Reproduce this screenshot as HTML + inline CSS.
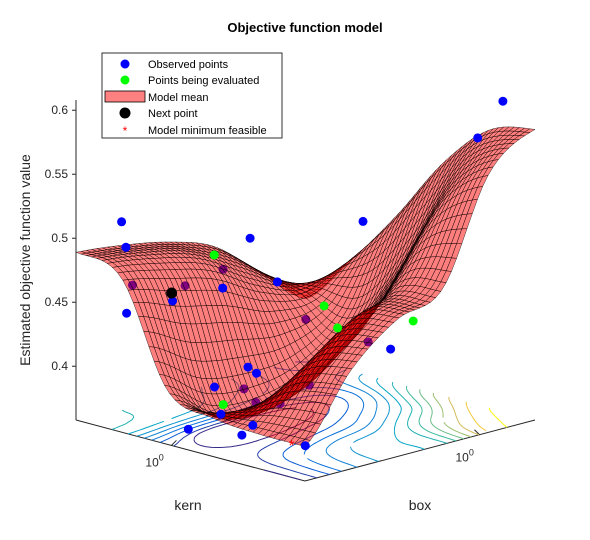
<!DOCTYPE html>
<html><head><meta charset="utf-8"><style>
html,body{margin:0;padding:0;background:#fff;}
svg{display:block;font-family:"Liberation Sans",Arial,sans-serif;}
</style></head><body>
<svg id="chart" width="590" height="540" viewBox="0 0 590 540" xmlns="http://www.w3.org/2000/svg">
<rect x="0" y="0" width="590" height="540" fill="#fff"/>
<text x="305" y="32" text-anchor="middle" font-size="13" font-weight="bold" fill="#000">Objective function model</text>
<text transform="translate(30,260) rotate(-90)" text-anchor="middle" font-size="14" fill="#262626">Estimated objective function value</text>
<text x="188" y="510" text-anchor="middle" font-size="14" fill="#262626">kern</text>
<text x="420" y="510" text-anchor="middle" font-size="14" fill="#262626">box</text>
<g id="floor"></g>
<g id="contours"></g>
<g id="behind"></g>
<g id="surface"></g>
<g id="front"></g>
<g id="zaxis"></g>
<g>
  <rect x="102" y="53" width="180" height="85" fill="#fff" stroke="#000" stroke-width="0.8"/>
  <g><circle cx="125" cy="64" r="4.5" fill="#0000ff"/><text x="148" y="68" font-size="11" fill="#000">Observed points</text></g>
  <g><circle cx="125" cy="80" r="4.5" fill="#00ff00"/><text x="148" y="84" font-size="11" fill="#000">Points being evaluated</text></g>
  <g><rect x="105" y="91" width="40" height="11" fill="#ff8080" stroke="#000" stroke-width="0.8"/><text x="148" y="101" font-size="11" fill="#000">Model mean</text></g>
  <g><circle cx="125" cy="113" r="5.5" fill="#000"/><text x="148" y="117" font-size="11" fill="#000">Next point</text></g>
  <g><text x="125" y="135" font-size="12" fill="#ff0000" text-anchor="middle">*</text><text x="148" y="134" font-size="11" fill="#000">Model minimum feasible</text></g>
</g>
</svg>
<script>
// ---- data ----
const kernGrid = [-1.4, -0.92, -0.44, 0.04, 0.52, 1.0];
const boxGrid = [-2.2, -1.62, -1.04, -0.46, 0.12, 0.7];
const meanRow0 = [0.385, 0.435, 0.465, 0.48, 0.56, 0.585];
const meanRow1 = [0.385, 0.425, 0.455, 0.472, 0.53, 0.575];
const meanRow2 = [0.388, 0.39, 0.40, 0.42, 0.465, 0.54];
const meanRow3 = [0.40, 0.375, 0.372, 0.385, 0.42, 0.49];
const meanRow4 = [0.478, 0.47, 0.46, 0.44, 0.43, 0.445];
const meanRow5 = [0.489, 0.485, 0.478, 0.465, 0.435, 0.405];
const obsKern = [0.58, 0.56, 0.52, 0.09, 0.26, 0.47, -0.03, -0.42, -1.23, -0.56, -0.42, -0.46, -0.26, 0.18, 0.18, -0.08, -0.09, -0.63, -1.14];
const obsBox = [-2.13, -2.10, -2.14, -1.10, -1.24, -1.62, -0.90, -0.29, 0.50, -0.11, -1.74, -1.68, -1.97, -1.36, -1.77, -1.27, -1.42, -1.27, 0.29];
const obsValue = [0.52, 0.50, 0.45, 0.50, 0.46, 0.452, 0.465, 0.51, 0.607, 0.41, 0.42, 0.415, 0.405, 0.365, 0.36, 0.36, 0.355, 0.355, 0.58];
const hiddenKern = [0.79, 0.63, 0.88, 0.47, -0.30, -0.34, 0.18, -0.02, -0.08, -0.10];
const hiddenBox = [-1.74, -1.27, -0.49, 0.06, -0.08, -0.87, -1.07, -1.16, -1.07, -0.95];
const hiddenValue = [0.46, 0.455, 0.45, 0.41, 0.41, 0.39, 0.38, 0.375, 0.375, 0.372];
const evalKern = [0.20, -0.37, -0.42, -0.88, 0.23];
const evalBox = [-1.42, -0.72, -0.61, -0.21, -1.27];
const evalValue = [0.49, 0.45, 0.432, 0.44, 0.37];
const nextKern = [0.43];
const nextBox = [-1.68];
const nextValue = [0.46];
const minKern = [-1.26];
const minBox = [-2.2];
const minValue = [0.385];
const zTicks = [0.4, 0.45, 0.5, 0.55, 0.6];
const zTickLabels = ["0.4", "0.45", "0.5", "0.55", "0.6"];
const contourLevels = [0.385, 0.395, 0.41, 0.425, 0.44, 0.455, 0.47, 0.485, 0.5, 0.515, 0.53, 0.545, 0.56, 0.575];

// ---- axes ----
const kLim = [-1.4, 1.0], bLim = [-2.2, 0.7], zFloor = 0.358;
const meanGrid = [meanRow0, meanRow1, meanRow2, meanRow3, meanRow4, meanRow5];
const NS = "http://www.w3.org/2000/svg";
function uOf(k){return (k-kLim[0])/(kLim[1]-kLim[0]);}
function vOf(b){return (b-bLim[0])/(bLim[1]-bLim[0]);}
function projUV(u,v,z){return [305-229*u+230*v, 481-61*u-61*v-(z-zFloor)*1280];}
function proj(k,b,z){return projUV(uOf(k),vOf(b),z);}
function mk(tag,parent){const e=document.createElementNS(NS,tag);parent.appendChild(e);return e;}

function cr(p0,p1,p2,p3,t){return 0.5*((2*p1)+(-p0+p2)*t+(2*p0-5*p1+4*p2-p3)*t*t+(-p0+3*p1-3*p2+p3)*t*t*t);}
function gv(i,j){i=Math.max(0,Math.min(5,i));j=Math.max(0,Math.min(5,j));return meanGrid[i][j];}
function surf(u,v){
  const fu=u*5, fv=v*5;
  let i=Math.min(4,Math.floor(fu)), j=Math.min(4,Math.floor(fv));
  const tu=fu-i, tv=fv-j;
  const col=[];
  for(let a=-1;a<3;a++){col.push(cr(gv(i+a,j-1),gv(i+a,j),gv(i+a,j+1),gv(i+a,j+2),tv));}
  return cr(col[0],col[1],col[2],col[3],tu);
}

// floor
const floorG=document.getElementById('floor');
const L=projUV(1,0,zFloor), F=projUV(0,0,zFloor), R=projUV(0,1,zFloor);
const fl=mk('polyline',floorG);
fl.setAttribute('points',`${L[0]},${L[1]} ${F[0]},${F[1]} ${R[0]},${R[1]}`);
fl.setAttribute('fill','none');fl.setAttribute('stroke','#262626');fl.setAttribute('stroke-width','1');


{const u=uOf(0);const p=projUV(u,0,zFloor);const t=mk('line',floorG);
t.setAttribute('x1',p[0]);t.setAttribute('y1',p[1]);t.setAttribute('x2',p[0]+5);t.setAttribute('y2',p[1]-5);t.setAttribute('stroke','#262626');


const tx=mk('text',floorG);tx.setAttribute('x',p[0]-26);tx.setAttribute('y',p[1]+21);tx.setAttribute('font-size','12');tx.setAttribute('fill','#262626');
tx.innerHTML='10<tspan dy="-6" font-size="9">0</tspan>';

}
{const v=vOf(0);const p=projUV(0,v,zFloor);const t=mk('line',floorG);
t.setAttribute('x1',p[0]);t.setAttribute('y1',p[1]);t.setAttribute('x2',p[0]-5);t.setAttribute('y2',p[1]-5);t.setAttribute('stroke','#262626');


const tx=mk('text',floorG);tx.setAttribute('x',p[0]-24);tx.setAttribute('y',p[1]+27);tx.setAttribute('font-size','12');tx.setAttribute('fill','#262626');
tx.innerHTML='10<tspan dy="-6" font-size="9">0</tspan>';

}

// z axis
const za=document.getElementById('zaxis');
const zl=mk('line',za);const zTop=projUV(1,0,0.608), zBot=projUV(1,0,zFloor);
zl.setAttribute('x1',zTop[0]);zl.setAttribute('y1',zTop[1]);zl.setAttribute('x2',zBot[0]);zl.setAttribute('y2',zBot[1]);zl.setAttribute('stroke','#262626');


zTicks.forEach((z,i)=>{const p=projUV(1,0,z);
 const t=mk('line',za);t.setAttribute('x1',p[0]-4);t.setAttribute('y1',p[1]);t.setAttribute('x2',p[0]);t.setAttribute('y2',p[1]);t.setAttribute('stroke','#262626');
 
 
 const tx=mk('text',za);tx.setAttribute('x',p[0]-8);tx.setAttribute('y',p[1]+4);tx.setAttribute('text-anchor','end');tx.setAttribute('font-size','12');tx.setAttribute('fill','#262626');tx.textContent=zTickLabels[i];
 
 
});

// contours (marching squares)
const parula=[[0,[53,42,135]],[0.15,[3,99,225]],[0.3,[20,133,212]],[0.45,[6,167,198]],[0.6,[56,185,158]],[0.75,[146,191,115]],[0.85,[217,186,86]],[0.95,[252,206,46]],[1,[249,251,14]]];
function cmap(t){for(let i=1;i<parula.length;i++){if(t<=parula[i][0]){const a=parula[i-1],b=parula[i];const f=(t-a[0])/(b[0]-a[0]);return `rgb(${a[1].map((c,j)=>Math.round(c+(b[1][j]-c)*f)).join(',')})`;}}return 'rgb(249,251,14)';}
const cg=document.getElementById('contours');
const NC=50;const vals=[];
for(let i=0;i<=NC;i++){vals.push([]);for(let j=0;j<=NC;j++)vals[i].push(surf(i/NC,j/NC));}
const lmin=contourLevels[0], lmax=contourLevels[contourLevels.length-1];
contourLevels.forEach(lev=>{
 let d='';
 for(let i=0;i<NC;i++)for(let j=0;j<NC;j++){
  const c=[[i,j],[i+1,j],[i+1,j+1],[i,j+1]];const pts=[];
  for(let e=0;e<4;e++){const a=c[e],b=c[(e+1)%4];const va=vals[a[0]][a[1]],vb=vals[b[0]][b[1]];
   if((va-lev)*(vb-lev)<0){const f=(lev-va)/(vb-va);pts.push([(a[0]+(b[0]-a[0])*f)/NC,(a[1]+(b[1]-a[1])*f)/NC]);}}
  for(let p=0;p+1<pts.length;p+=2){const A=projUV(pts[p][0],pts[p][1],zFloor),B=projUV(pts[p+1][0],pts[p+1][1],zFloor);
   d+=`M${A[0].toFixed(1)},${A[1].toFixed(1)}L${B[0].toFixed(1)},${B[1].toFixed(1)}`;}
 }
 const path=mk('path',cg);path.setAttribute('d',d);path.setAttribute('fill','none');path.setAttribute('stroke',cmap((lev-lmin)/(lmax-lmin)));path.setAttribute('stroke-width','1');
 
 
});

// points
function dot(g,k,b,z,fill,r,name){const p=proj(k,b,z);const c=mk('circle',g);c.setAttribute('cx',p[0].toFixed(1));c.setAttribute('cy',p[1].toFixed(1));c.setAttribute('r',r);c.setAttribute('fill',fill);
 
 }
const bg=document.getElementById('behind'), fg=document.getElementById('front');
hiddenKern.forEach((k,i)=>dot(bg,k,hiddenBox[i],hiddenValue[i],'#0000ff',4.5,'observed-point-occluded'));

// surface
const sg=document.getElementById('surface');
const N=44;const quads=[];
for(let i=0;i<N;i++)for(let j=0;j<N;j++){
 const cs=[[i,j],[i+1,j],[i+1,j+1],[i,j+1]].map(([a,b])=>{const u=a/N,v=b/N;return [u,v,surf(u,v)];});
 const uc=(i+0.5)/N,vc=(j+0.5)/N,zc=surf(uc,vc);
 quads.push({cs,depth:225*(uc+vc)-345*zc});
}
quads.sort((a,b)=>b.depth-a.depth);
quads.forEach(q=>{const pg=mk('polygon',sg);
 pg.setAttribute('points',q.cs.map(c=>{const p=projUV(c[0],c[1],c[2]);return p[0].toFixed(1)+','+p[1].toFixed(1);}).join(' '));
 pg.setAttribute('fill','#ff0000');pg.setAttribute('fill-opacity','0.5');pg.setAttribute('stroke','#000');pg.setAttribute('stroke-width','0.45');pg.setAttribute('stroke-opacity','0.85');
 
 
});

obsKern.forEach((k,i)=>dot(fg,k,obsBox[i],obsValue[i],'#0000ff',4.5,'observed-point'));
evalKern.forEach((k,i)=>dot(fg,k,evalBox[i],evalValue[i],'#00ff00',4.5,'evaluating-point'));
nextKern.forEach((k,i)=>dot(fg,k,nextBox[i],nextValue[i],'#000000',5.5,'next-point'));
minKern.forEach((k,i)=>{const p=proj(k,minBox[i],minValue[i]);const t=mk('text',fg);t.setAttribute('x',p[0].toFixed(1));t.setAttribute('y',(p[1]+8).toFixed(1));t.setAttribute('text-anchor','middle');t.setAttribute('font-size','16');t.setAttribute('fill','#ff0000');t.textContent='*';
 
 });
</script>
</body></html>
